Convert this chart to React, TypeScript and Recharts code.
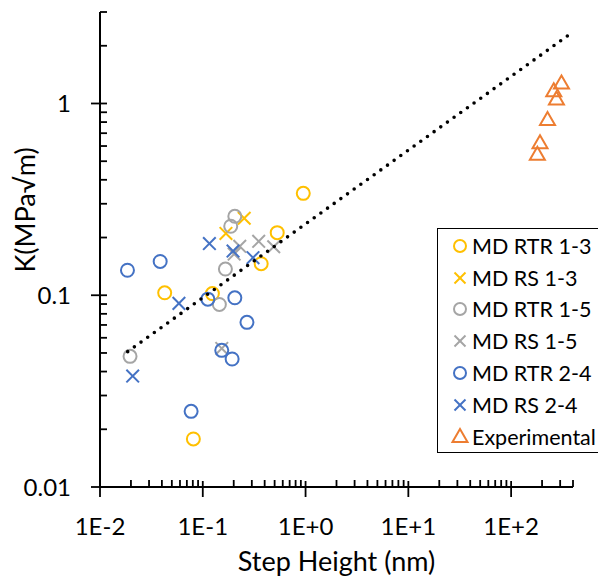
import { ScatterChart, Scatter, XAxis, YAxis, Legend } from 'recharts';

// K vs step height, one array per series: h = step height (nm), k = K (MPa√m)
const rtr13 = [
  { h: 0.95, k: 0.34 },
  { h: 0.53, k: 0.212 },
  { h: 0.37, k: 0.146 },
  { h: 0.0426, k: 0.103 },
  { h: 0.124, k: 0.102 },
  { h: 0.081, k: 0.0178 },
];
const rs13 = [
  { h: 0.253, k: 0.252 },
  { h: 0.168, k: 0.21 },
];
const rtr15 = [
  { h: 0.205, k: 0.258 },
  { h: 0.187, k: 0.229 },
  { h: 0.166, k: 0.137 },
  { h: 0.145, k: 0.0895 },
  { h: 0.0196, k: 0.048 },
];
const rs15 = [
  { h: 0.35, k: 0.191 },
  { h: 0.49, k: 0.179 },
  { h: 0.229, k: 0.18 },
  { h: 0.202, k: 0.164 },
  { h: 0.153, k: 0.0528 },
];
const rtr24 = [
  { h: 0.0185, k: 0.135 },
  { h: 0.0385, k: 0.15 },
  { h: 0.112, k: 0.0954 },
  { h: 0.205, k: 0.097 },
  { h: 0.269, k: 0.0722 },
  { h: 0.153, k: 0.0516 },
  { h: 0.193, k: 0.0465 },
  { h: 0.077, k: 0.0248 },
];
const rs24 = [
  { h: 0.116, k: 0.186 },
  { h: 0.197, k: 0.17 },
  { h: 0.308, k: 0.157 },
  { h: 0.0586, k: 0.0907 },
  { h: 0.0208, k: 0.0379 },
];
const experimental = [
  { h: 309, k: 1.27 },
  { h: 260, k: 1.16 },
  { h: 276, k: 1.05 },
  { h: 226, k: 0.82 },
  { h: 191, k: 0.62 },
  { h: 180, k: 0.54 },
];
// power-law trendline, end points
const trend = [
  { h: 0.0186, k: 0.0508 },
  { h: 382, k: 2.32 },
];

const xMajor = [0.01, 0.1, 1, 10, 100];
const xLabels = ['1E-2', '1E-1', '1E+0', '1E+1', '1E+2'];
const xMinor = [
  0.02, 0.03, 0.04, 0.05, 0.06, 0.07, 0.08, 0.09,
  0.2, 0.3, 0.4, 0.5, 0.6, 0.7, 0.8, 0.9,
  2, 3, 4, 5, 6, 7, 8, 9,
  20, 30, 40, 50, 60, 70, 80, 90,
  200, 300, 400,
];
const yMajor = [0.01, 0.1, 1];
const yLabels = ['0.01', '0.1', '1'];
const yMinor = [
  0.02, 0.03, 0.04, 0.05, 0.06, 0.07, 0.08, 0.09,
  0.2, 0.3, 0.4, 0.5, 0.6, 0.7, 0.8, 0.9,
  2, 3,
];

const YELLOW = '#FFC000';
const GRAY = '#A5A5A5';
const BLUE = '#4472C4';
const ORANGE = '#ED7D31';
const FONT = 'Lato';
const TICK_FONT = 24;

const ring = (color: string, r = 6.5) => (p: any) => (
  <circle cx={p.cx} cy={p.cy} r={r} fill="none" stroke={color} strokeWidth={2} />
);
const cross = (color: string, s = 6.3) => (p: any) => (
  <g stroke={color} strokeWidth={2}>
    <line x1={p.cx - s} y1={p.cy - s} x2={p.cx + s} y2={p.cy + s} />
    <line x1={p.cx - s} y1={p.cy + s} x2={p.cx + s} y2={p.cy - s} />
  </g>
);
const tri = (color: string) => (p: any) => (
  <path
    d={`M${p.cx},${p.cy - 8}L${p.cx + 7.5},${p.cy + 5}L${p.cx - 7.5},${p.cy + 5}Z`}
    fill="none"
    stroke={color}
    strokeWidth={2}
    strokeLinejoin="miter"
  />
);

const series = [
  { name: 'MD RTR 1-3', data: rtr13, shape: ring(YELLOW), icon: ring(YELLOW, 6) },
  { name: 'MD RS 1-3', data: rs13, shape: cross(YELLOW), icon: cross(YELLOW, 5.5) },
  { name: 'MD RTR 1-5', data: rtr15, shape: ring(GRAY), icon: ring(GRAY, 6) },
  { name: 'MD RS 1-5', data: rs15, shape: cross(GRAY), icon: cross(GRAY, 5.5) },
  { name: 'MD RTR 2-4', data: rtr24, shape: ring(BLUE), icon: ring(BLUE, 6) },
  { name: 'MD RS 2-4', data: rs24, shape: cross(BLUE), icon: cross(BLUE, 5.5) },
  { name: 'Experimental', data: experimental, shape: tri(ORANGE), icon: tri(ORANGE) },
];

// axis ticks: tickSize/tickMargin are 0, so x/y sit on the axis line
const XTick = (props: any) => {
  const { x, y, payload } = props;
  const i = xMajor.indexOf(payload.value);
  if (i < 0) {
    return <line x1={x} x2={x} y1={y} y2={y - 7} stroke="#000" strokeWidth={1.8} />;
  }
  return (
    <g>
      <line x1={x} x2={x} y1={y - 6} y2={y + 10} stroke="#000" strokeWidth={1.8} />
      <text x={x} y={y + 48} textAnchor="middle" fontFamily={FONT} fontSize={TICK_FONT} fill="#000">
        {xLabels[i]}
      </text>
    </g>
  );
};

const YTick = (props: any) => {
  const { x, y, payload } = props;
  const i = yMajor.indexOf(payload.value);
  if (i < 0) {
    return <line x1={x} x2={x + 7} y1={y} y2={y} stroke="#000" strokeWidth={1.8} />;
  }
  return (
    <g>
      <line x1={x - 9} x2={x + 7} y1={y} y2={y} stroke="#000" strokeWidth={1.8} />
      <text x={x - 29} y={y + 8.5} textAnchor="end" fontFamily={FONT} fontSize={TICK_FONT} fill="#000">
        {yLabels[i]}
      </text>
    </g>
  );
};

const LegendBox = () => (
  <div
    style={{
      width: 166,
      height: 225,
      border: '1.5px solid #000',
      background: '#fff',
      boxSizing: 'border-box',
      paddingTop: 1,
      fontFamily: FONT,
      fontSize: 21.5,
      color: '#000',
    }}
  >
    {series.map((s) => (
      <div key={s.name} style={{ display: 'flex', alignItems: 'center', height: 31.8 }}>
        <svg width={34} height={24} style={{ flex: 'none' }}>
          {s.icon({ cx: 22, cy: 12 })}
        </svg>
        <span style={{ whiteSpace: 'nowrap' }}>{s.name}</span>
      </div>
    ))}
  </div>
);

export default function App() {
  return (
    <ScatterChart
      width={598}
      height={569}
      margin={{ top: 4, right: 33, left: 0, bottom: 0 }}
      style={{ fontFamily: FONT }}
    >
      <XAxis
        type="number"
        dataKey="h"
        scale="log"
        domain={[0.01, 400]}
        ticks={[...xMajor, ...xMinor]}
        interval={0}
        tickSize={0}
        tickMargin={0}
        tickLine={false}
        tick={XTick}
        axisLine={{ stroke: '#000', strokeWidth: 2 }}
        height={90}
        label={{
          value: 'Step Height (nm)',
          position: 'insideBottom',
          offset: 6,
          fontFamily: FONT,
          fontSize: 27,
          fill: '#000',
        }}
      />
      <YAxis
        type="number"
        dataKey="k"
        scale="log"
        domain={[0.01, 3]}
        ticks={[...yMajor, ...yMinor]}
        interval={0}
        tickSize={0}
        tickMargin={0}
        tickLine={false}
        tick={YTick}
        axisLine={{ stroke: '#000', strokeWidth: 2 }}
        width={92}
        label={{
          content: (p: any) => {
            const vb = p.viewBox;
            const cx = vb.x + 16;
            const cy = 202;
            return (
              <text
                x={cx}
                y={cy}
                transform={`rotate(-90 ${cx} ${cy})`}
                textAnchor="middle"
                dominantBaseline="central"
                fontFamily={FONT}
                fontSize={27}
                fill="#000"
              >
                K(MPa√m)
              </text>
            );
          },
        }}
      />
      {series.map((s) => (
        <Scatter key={s.name} name={s.name} data={s.data} shape={s.shape} isAnimationActive={false} />
      ))}
      <Scatter
        name="trend"
        data={trend}
        shape={() => <g />}
        line={{ stroke: '#000', strokeWidth: 3.6, strokeDasharray: '0 8.2', strokeLinecap: 'round' }}
        isAnimationActive={false}
      />
      <Legend
        layout="horizontal"
        align="center"
        verticalAlign="middle"
        content={() => <LegendBox />}
        wrapperStyle={{ position: 'absolute', left: 429, top: 220, width: 'auto', height: 'auto' }}
      />
    </ScatterChart>
  );
}
